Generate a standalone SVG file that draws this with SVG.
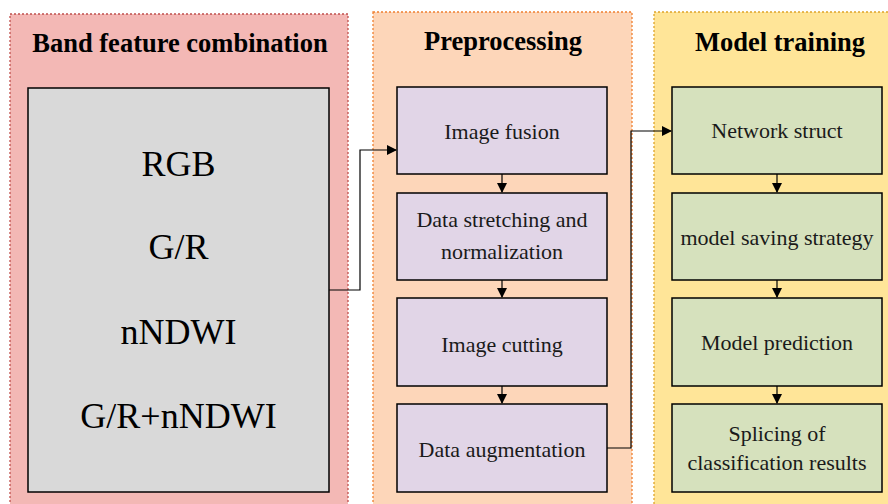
<svg xmlns="http://www.w3.org/2000/svg" width="888" height="504" viewBox="0 0 888 504">
<defs>
<marker id="arr" markerWidth="10" markerHeight="10" refX="9" refY="5" orient="auto" markerUnits="userSpaceOnUse">
<path d="M0,0 L10,5 L0,10 Z" fill="#000"/>
</marker>
<style>
text{font-family:'Liberation Serif','Times New Roman',serif}
.title{font-weight:bold;font-size:26.5px;text-anchor:middle;fill:#000}
.big{font-size:36px;text-anchor:middle;fill:#000}
.lbl{font-size:22px;text-anchor:middle;fill:#1a1a1a}
.box{stroke:#000;stroke-width:1.5}
.p{fill:#e1d5e7}
.g{fill:#d6e1bd}
.conn{fill:none;stroke:#000;stroke-width:1.2}
</style>
</defs>
<rect width="888" height="504" fill="#fff"/>
<g id="panel-band">
<rect x="10" y="14" width="338" height="500" fill="#f3b8b5" stroke="#c0504d" stroke-width="1.3" stroke-dasharray="2,2"/>
<text class="title" x="180" y="52">Band feature combination</text>
</g>
<g id="panel-pre">
<rect x="373" y="12" width="259" height="502" fill="#fdd6b9" stroke="#f07f2f" stroke-width="1.3" stroke-dasharray="2,2"/>
<text class="title" x="503" y="50">Preprocessing</text>
</g>
<g id="panel-model">
<rect x="654" y="12" width="250" height="502" fill="#ffe598" stroke="#dea42a" stroke-width="1.3" stroke-dasharray="2,2"/>
<text class="title" x="780" y="51">Model training</text>
</g>
<g id="bands">
<rect class="box" x="28" y="88" width="301" height="404" fill="#d9d9d9"/>
<text class="big" x="178.5" y="176">RGB</text>
<text class="big" x="178.5" y="259">G/R</text>
<text class="big" x="178.5" y="344">nNDWI</text>
<text class="big" x="178.5" y="428">G/R+nNDWI</text>
</g>
<g id="image-fusion">
<rect class="box p" x="397" y="87" width="210" height="87"/>
<text class="lbl" x="502" y="139">Image fusion</text>
</g>
<g id="data-stretching">
<rect class="box p" x="397" y="193" width="210" height="87"/>
<text class="lbl" x="502" y="227">Data stretching and</text>
<text class="lbl" x="502" y="259">normalization</text>
</g>
<g id="image-cutting">
<rect class="box p" x="397" y="298" width="210" height="88"/>
<text class="lbl" x="502" y="352">Image cutting</text>
</g>
<g id="data-augmentation">
<rect class="box p" x="397" y="404" width="210" height="88"/>
<text class="lbl" x="502" y="457">Data augmentation</text>
</g>
<g id="network-struct">
<rect class="box g" x="672" y="87" width="210" height="87"/>
<text class="lbl" x="777" y="138">Network struct</text>
</g>
<g id="model-saving">
<rect class="box g" x="672" y="193" width="210" height="87"/>
<text class="lbl" x="777" y="245">model saving strategy</text>
</g>
<g id="model-prediction">
<rect class="box g" x="672" y="298" width="210" height="88"/>
<text class="lbl" x="777" y="350">Model prediction</text>
</g>
<g id="splicing">
<rect class="box g" x="672" y="404" width="210" height="88"/>
<text class="lbl" x="777" y="441">Splicing of</text>
<text class="lbl" x="777" y="470">classification results</text>
</g>
<g id="connectors">
<path class="conn" d="M329,290 H360 V150 H396" marker-end="url(#arr)"/>
<path class="conn" d="M607,448 H631 V131 H671" marker-end="url(#arr)"/>
<path class="conn" d="M502,174 V192" marker-end="url(#arr)"/>
<path class="conn" d="M502,280 V297" marker-end="url(#arr)"/>
<path class="conn" d="M502,386 V403" marker-end="url(#arr)"/>
<path class="conn" d="M777,174 V192" marker-end="url(#arr)"/>
<path class="conn" d="M777,280 V297" marker-end="url(#arr)"/>
<path class="conn" d="M777,386 V403" marker-end="url(#arr)"/>
</g>
</svg>
